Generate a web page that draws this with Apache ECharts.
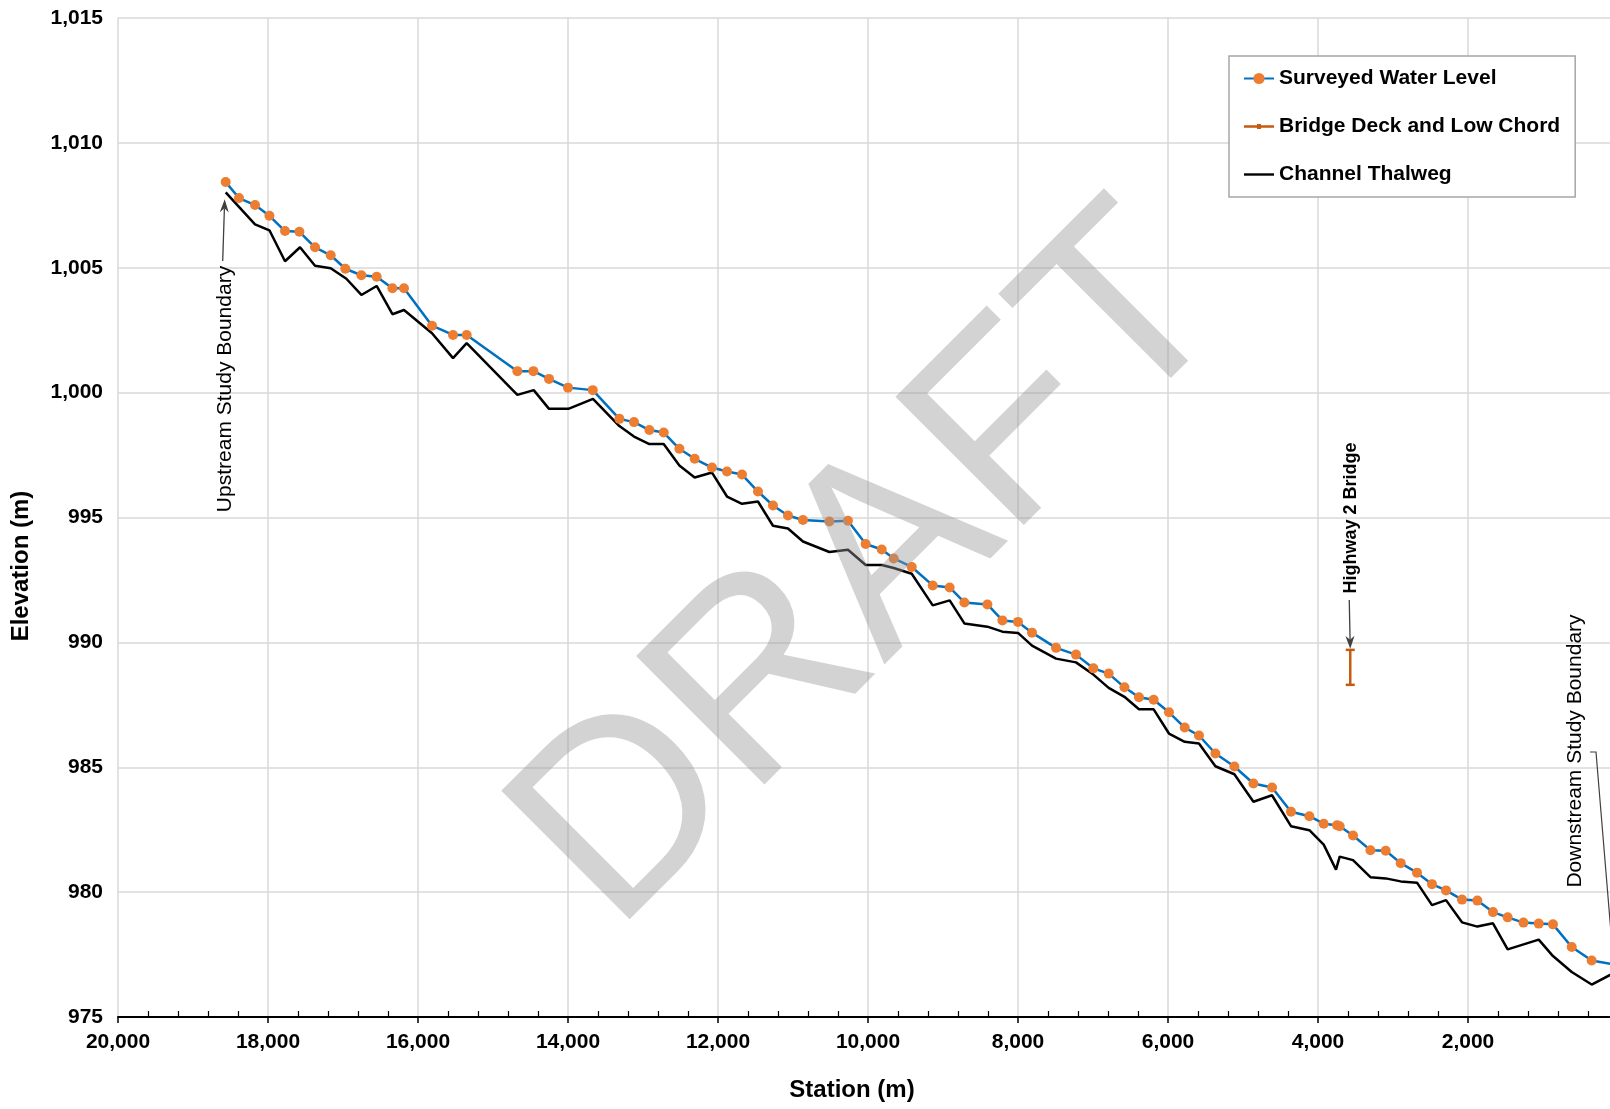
<!DOCTYPE html>
<html>
<head>
<meta charset="utf-8">
<script src="https://cdn.jsdelivr.net/npm/echarts@6/dist/echarts.min.js"></script>
<style>
  html, body { margin: 0; padding: 0; background: #fff; }
  #chart { width: 1610px; height: 1109px; }
</style>
</head>
<body>
<div id="chart"></div>
<script>
// surveyed water level (station m, elevation m)
const waterStation = [18564, 18387, 18173, 17981, 17773, 17581, 17373, 17164, 16969, 16755, 16551, 16341, 16187,
  15813, 15533, 15351, 14675, 14461, 14253, 14000, 13670, 13315, 13120, 12915, 12724, 12515, 12311, 12080, 11880,
  11680, 11467, 11267, 11067, 10867, 10515, 10267, 10031, 9817, 9657, 9417, 9137, 8911, 8715, 8408, 8208, 8000,
  7813, 7493, 7227, 6995, 6791, 6581, 6387, 6191, 5987, 5777, 5587, 5368, 5115, 4861, 4613, 4360, 4115, 3924,
  3747, 3711, 3533, 3301, 3097, 2897, 2680, 2480, 2293, 2080, 1875, 1667, 1471, 1261, 1057, 867, 617, 351, 0];
const waterLevel = [1008.43, 1007.79, 1007.51, 1007.08, 1006.47, 1006.44, 1005.82, 1005.50, 1004.96, 1004.70, 1004.64,
  1004.18, 1004.18, 1002.68, 1002.31, 1002.31, 1000.86, 1000.86, 1000.55, 1000.20, 1000.10, 998.95, 998.82, 998.50,
  998.40, 997.75, 997.35, 997.00, 996.84, 996.72, 996.04, 995.48, 995.08, 994.90, 994.84, 994.87, 993.94, 993.72,
  993.36, 993.02, 992.28, 992.20, 991.60, 991.52, 990.88, 990.82, 990.39, 989.78, 989.51, 988.96, 988.75, 988.20,
  987.80, 987.70, 987.20, 986.59, 986.27, 985.55, 985.03, 984.35, 984.19, 983.22, 983.04, 982.74, 982.68, 982.64,
  982.27, 981.68, 981.66, 981.16, 980.78, 980.32, 980.07, 979.70, 979.66, 979.20, 978.99, 978.78, 978.74, 978.71,
  977.80, 977.26, 977.08];

// channel thalweg
const thalwegStation = [18564, 18387, 18173, 17981, 17773, 17573, 17373, 17164, 16955, 16755, 16551, 16341, 16187,
  15813, 15533, 15351, 14675, 14457, 14253, 13995, 13667, 13315, 13120, 12915, 12724, 12515, 12311, 12080, 11880,
  11680, 11467, 11267, 11067, 10867, 10515, 10267, 10031, 9817, 9657, 9417, 9137, 8911, 8715, 8408, 8208, 8000,
  7813, 7493, 7227, 6995, 6791, 6581, 6387, 6191, 5987, 5777, 5587, 5368, 5115, 4861, 4613, 4360, 4115, 3924,
  3760, 3711, 3533, 3301, 3097, 2897, 2680, 2480, 2293, 2080, 1875, 1667, 1471, 1057, 867, 617, 351, 0];
const thalwegLevel = [1008.02, 1007.44, 1006.74, 1006.50, 1005.26, 1005.82, 1005.08, 1004.98, 1004.56, 1003.91, 1004.27,
  1003.14, 1003.31, 1002.38, 1001.38, 1001.98, 999.91, 1000.10, 999.35, 999.35, 999.75, 998.66, 998.24, 997.94,
  997.94, 997.08, 996.60, 996.80, 995.84, 995.55, 995.64, 994.67, 994.56, 994.04, 993.62, 993.71, 993.10, 993.10,
  992.98, 992.75, 991.48, 991.68, 990.76, 990.63, 990.43, 990.38, 989.87, 989.35, 989.20, 988.71, 988.18, 987.82,
  987.32, 987.32, 986.35, 986.02, 985.95, 985.04, 984.72, 983.62, 983.88, 982.64, 982.48, 981.90, 980.90, 981.42,
  981.28, 980.60, 980.55, 980.43, 980.38, 979.48, 979.68, 978.79, 978.62, 978.75, 977.71, 978.10, 977.44, 976.80,
  976.30, 976.85];

// bridge deck (top) and low chord (bottom)
const bridgeStation = [3570, 3570];
const bridgeLevel = [989.7, 988.3];

const seriesNames = ['Surveyed Water Level', 'Bridge Deck and Low Chord', 'Channel Thalweg'];
const stationRange = [0, 20000, 2000];
const elevationRange = [975, 1015, 5];

const FONT = '"Liberation Sans", Arial, sans-serif';
const zip = (xs, ys) => xs.map((x, i) => [x, ys[i]]);
const fmt = v => Number(v).toLocaleString('en-US');

const chart = echarts.init(document.getElementById('chart'));

const option = {
  animation: false,
  backgroundColor: '#fff',
  // plot runs past the right edge of the picture (station 0 is cropped off)
  grid: { left: 118, top: 18, width: 1500, bottom: 92, outerBoundsMode: 'none', containLabel: false },
  legend: {
    orient: 'vertical',
    left: 1229,
    top: 56,
    padding: [12, 15, 12, 14],
    itemGap: 27,
    itemWidth: 30,
    itemHeight: 14,
    symbolKeepAspect: true,
    borderColor: '#a6a6a6',
    borderWidth: 1.5,
    backgroundColor: '#fff',
    data: [
      { name: seriesNames[0] },
      { name: seriesNames[1], icon: 'path://M0,1.2h13v-1.2h4v1.2h13v2.4h-13v1.2h-4v-1.2h-13z' },
      { name: seriesNames[2], icon: 'path://M0,0h30v2.4h-30z' }
    ],
    textStyle: { fontFamily: FONT, fontSize: 21, fontWeight: 'bold', color: '#000', lineHeight: 21 }
  },
  xAxis: {
    type: 'value',
    inverse: true,
    min: stationRange[0],
    max: stationRange[1],
    interval: stationRange[2],
    axisLine: { lineStyle: { color: '#000', width: 2 } },
    axisTick: { length: 6, lineStyle: { color: '#000', width: 1.5 } },
    minorTick: { show: true, splitNumber: 5, length: -6, lineStyle: { color: '#000', width: 1.2 } },
    splitLine: { show: true, lineStyle: { color: '#d9d9d9', width: 1.5 } },
    axisLabel: {
      margin: 15, fontFamily: FONT, fontSize: 21, fontWeight: 'bold', color: '#000',
      formatter: fmt
    }
  },
  yAxis: {
    type: 'value',
    min: elevationRange[0],
    max: elevationRange[1],
    interval: elevationRange[2],
    axisLine: { show: true, lineStyle: { color: '#000', width: 2 } },
    axisTick: { show: true, length: 6, lineStyle: { color: '#000', width: 1.5 } },
    splitLine: { show: true, lineStyle: { color: '#d9d9d9', width: 1.5 } },
    axisLabel: {
      margin: 15, fontFamily: FONT, fontSize: 21, fontWeight: 'bold', color: '#000',
      formatter: fmt
    }
  },
  series: [
    {
      name: seriesNames[0],
      type: 'line',
      z: 4,
      data: zip(waterStation, waterLevel),
      symbol: 'circle',
      symbolSize: 10,
      itemStyle: { color: '#ED7D31', borderWidth: 0 },
      lineStyle: { color: '#0070C0', width: 2.5 }
    },
    {
      name: seriesNames[1],
      type: 'line',
      z: 5,
      data: zip(bridgeStation, bridgeLevel),
      symbol: 'rect',
      symbolSize: [9, 2.5],
      itemStyle: { color: '#C55A11' },
      lineStyle: { color: '#C55A11', width: 2.5 }
    },
    {
      name: seriesNames[2],
      type: 'line',
      z: 3,
      data: zip(thalwegStation, thalwegLevel),
      symbol: 'none',
      itemStyle: { color: '#000' },
      lineStyle: { color: '#000', width: 2.5 }
    }
  ]
};

chart.setOption(option);

// annotations placed from the chart's own coordinate system
const px = p => chart.convertToPixel({ gridIndex: 0 }, p);

function arrow(id, x1, y1, x2, y2) {
  const a = Math.atan2(y2 - y1, x2 - x1);
  const L = 13, W = 4.5, N = 9;
  const bx = x2 - L * Math.cos(a), by = y2 - L * Math.sin(a);
  const nx = x2 - N * Math.cos(a), ny = y2 - N * Math.sin(a);
  const ox = -Math.sin(a) * W, oy = Math.cos(a) * W;
  return [
    { type: 'line', id: id + '_l', z: 50, shape: { x1, y1, x2: nx, y2: ny }, style: { stroke: '#404040', lineWidth: 1.3 } },
    { type: 'polygon', id: id + '_h', z: 50, shape: { points: [[x2, y2], [bx + ox, by + oy], [nx, ny], [bx - ox, by - oy]] },
      style: { fill: '#404040' } }
  ];
}

function vtext(id, text, x, y, size, weight) {
  return {
    type: 'text', id, z: 50, x, y, rotation: Math.PI / 2,
    style: {
      text, font: weight + ' ' + size + 'px ' + FONT, fill: '#000',
      textAlign: 'center', textVerticalAlign: 'middle', align: 'center', verticalAlign: 'middle'
    }
  };
}

const up = px([thalwegStation[0], thalwegLevel[0]]);
const deck = px([bridgeStation[0], bridgeLevel[0]]);
// downstream boundary sits at station 0, on the bottom of the plot
const down = px([stationRange[0], elevationRange[0]]);

const graphics = [
  vtext('upText', 'Upstream Study Boundary', 225, 389, 21, 'normal'),
  ...arrow('upArrow', up[0] - 3, 261, up[0] - 1, up[1] + 7),
  vtext('bridgeText', 'Highway 2 Bridge', deck[0] + 1, 518, 18, 'bold'),
  ...arrow('bridgeArrow', deck[0] - 1, 600, deck[0], deck[1] - 1),
  vtext('downText', 'Downstream Study Boundary', 1575, 751, 21, 'normal'),
  { type: 'polyline', id: 'downLeader', z: 50,
    shape: { points: [[1590, 752], [1596, 752], [down[0], down[1]]] },
    style: { stroke: '#404040', lineWidth: 1.2, fill: null } },
  vtext('yName', 'Elevation (m)', 21, 566, 24, 'bold'),
  { type: 'text', id: 'xName', z: 50, x: 852, y: 1090,
    style: { text: 'Station (m)', font: 'bold 24px ' + FONT, fill: '#000',
      textAlign: 'center', textVerticalAlign: 'middle', align: 'center', verticalAlign: 'middle' } },
  { type: 'text', id: 'draft', z: 100, x: 874, y: 572, rotation: Math.PI / 4, silent: true,
    style: { text: 'DRAFT', font: '264px ' + FONT, fill: 'rgba(150,150,150,0.42)',
      textAlign: 'center', textVerticalAlign: 'middle', align: 'center', verticalAlign: 'middle' } }
];

chart.setOption({ graphic: graphics });
</script>
</body>
</html>
